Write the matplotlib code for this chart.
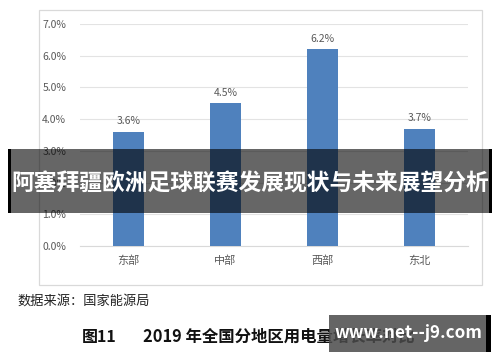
import matplotlib
matplotlib.use("Agg")
import matplotlib.pyplot as plt
from matplotlib.patches import Rectangle

plt.rcParams['font.family'] = ['Noto Sans CJK SC', 'DejaVu Sans']

regions = ['东部', '中部', '西部', '东北']
growth = [3.6, 4.5, 6.2, 3.7]
yticks = [0, 1, 2, 3, 4, 5, 6, 7]
banner_text = '阿塞拜疆欧洲足球联赛发展现状与未来展望分析'
source_text = '数据来源：国家能源局'
fig_no = '图11'
caption_text = '2019 年全国分地区用电量增长率对比'
watermark_text = 'www.net--j9.com'

W, H = 500, 362
fig = plt.figure(figsize=(W / 100, H / 100), dpi=100)

def fx(px):
    return px / W

def fy(py):
    return 1 - py / H

# outer frame of the chart
fig.patches.append(Rectangle((fx(39), fy(285)), fx(482) - fx(39), fy(10) - fy(285),
                             transform=fig.transFigure, fill=False,
                             edgecolor='#d9d9d9', linewidth=0.9, zorder=0))

ax = fig.add_axes([fx(80), fy(246), fx(468) - fx(80), fy(24) - fy(246)])
x = range(len(regions))
bars = ax.bar(x, growth, width=0.31, color='#4f81bd', zorder=3)
for xi, v in zip(x, growth):
    ax.text(xi, v + 0.17, f'{v:.1f}%', ha='center', va='bottom',
            fontsize=7.5, color='#595959')

ax.set_xlim(-0.5, len(regions) - 0.5)
ax.set_ylim(0, 7)
ax.set_yticks(yticks)
ax.set_yticklabels([f'{t:.1f}%' for t in yticks])
ax.set_xticks(list(x))
ax.set_xticklabels(regions)
ax.tick_params(axis='both', length=0, labelsize=7.5, labelcolor='#595959')
ax.tick_params(axis='x', labelsize=8, pad=7)
ax.tick_params(axis='y', pad=10)
ax.grid(axis='y', color='#e3e3e3', linewidth=0.8, zorder=0)
for s in ['top', 'right', 'left']:
    ax.spines[s].set_visible(False)
ax.spines['bottom'].set_color('#d9d9d9')

# dark banner across the middle
fig.patches.append(Rectangle((fx(9), fy(213)), fx(492) - fx(9), fy(149) - fy(213),
                             transform=fig.transFigure, color='black', alpha=0.6,
                             linewidth=0, zorder=10))
fig.patches.append(Rectangle((fx(8), fy(213)), fx(3), fy(149) - fy(213),
                             transform=fig.transFigure, color='black', linewidth=0, zorder=11))
fig.patches.append(Rectangle((fx(489), fy(213)), fx(3), fy(149) - fy(213),
                             transform=fig.transFigure, color='black', linewidth=0, zorder=11))
fig.text(0.5, fy(184), banner_text, ha='center', va='center', color='white',
         fontsize=16.4, fontweight='bold', zorder=12)

fig.text(fx(17), fy(301), source_text, ha='left', va='center',
         fontsize=9.5, color='#222222')
fig.text(fx(82), fy(337), fig_no, ha='left', va='center',
         fontsize=11.5, fontweight='bold', color='#111111')
fig.text(fx(143), fy(337), caption_text, ha='left', va='center',
         fontsize=11.8, fontweight='bold', color='#111111')

# watermark box bottom right
fig.patches.append(Rectangle((fx(329), fy(352)), fx(486) - fx(329), fy(315) - fy(352),
                             transform=fig.transFigure, color='#4a4a4a', alpha=0.85,
                             linewidth=0, zorder=10))
fig.patches.append(Rectangle((fx(486), fy(352)), fx(5), fy(315) - fy(352),
                             transform=fig.transFigure, color='black', linewidth=0, zorder=11))
fig.text(fx(408), fy(333), watermark_text, ha='center', va='center', color='white',
         fontsize=12.3, fontweight='bold', zorder=12)

fig.savefig('out.png', dpi=100)
